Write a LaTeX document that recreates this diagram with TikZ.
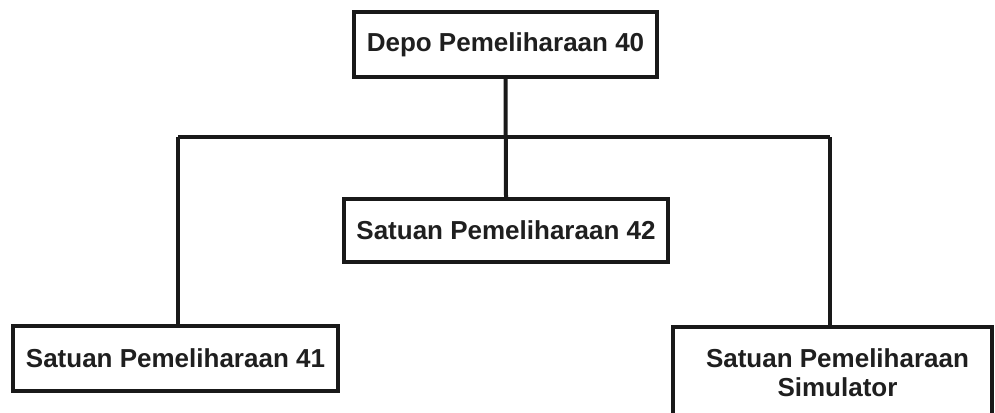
\documentclass[tikz,border=0pt]{standalone}
\usepackage{fontspec}
\setmainfont{Liberation Sans}
\begin{document}
\begin{tikzpicture}[x=1pt,y=-1pt,
  line width=4pt,
  ink/.style={draw=black!90},
  label/.style={font=\fontsize{26}{29}\selectfont\bfseries, text=black!88, align=center},
  unitbox/.style={ink, fill=white, rectangle, inner sep=0pt, label}]
  \clip (0,0) rectangle (995,412);
  \fill[white] (0,0) rectangle (995,412);
  % organisation boxes
  \node[unitbox, minimum width=303, minimum height=65] (depo) at (505.5,44.5) {Depo Pemeliharaan 40};
  \node[unitbox, minimum width=324, minimum height=63] (sp42) at (506,230.5) {Satuan Pemeliharaan 42};
  \node[unitbox, minimum width=325, minimum height=65] (sp41) at (175.5,358.5) {Satuan Pemeliharaan 41};
  \node[unitbox, minimum width=319, minimum height=130, anchor=north] (sps) at (832.5,325) {};
  \node[label, anchor=north] (spstext) at (837.5,343) {Satuan Pemeliharaan\\Simulator};
  % connectors
  \coordinate (barL) at (178,137);
  \coordinate (barR) at (830,137);
  \draw[ink] (depo.south) -- (sp42.north);
  \draw[ink] (barL) -- (barR);
  \draw[ink] (barL) -- (barL |- sp41.north);
  \draw[ink] (barR) -- (barR |- sps.north);
\end{tikzpicture}
\end{document}
